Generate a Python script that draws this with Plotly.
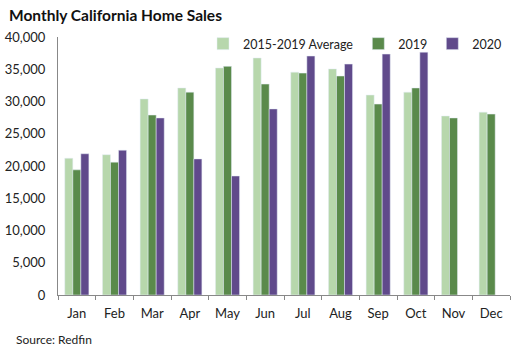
import plotly.graph_objects as go

months = ["Jan", "Feb", "Mar", "Apr", "May", "Jun", "Jul", "Aug", "Sep", "Oct", "Nov", "Dec"]
avg_2015_2019 = [21200, 21750, 30400, 32100, 35200, 36750, 34550, 35050, 31000, 31450, 27750, 28350]
sales_2019 = [19400, 20600, 27900, 31450, 35450, 32700, 34400, 33950, 29600, 32100, 27450, 28050]
sales_2020 = [21900, 22450, 27450, 21100, 18450, 28850, 37050, 35800, 37350, 37650, None, None]
y_ticks = [0, 5000, 10000, 15000, 20000, 25000, 30000, 35000, 40000]

font_family = "Lato, 'Open Sans', sans-serif"

W, H = 522, 353
ML, MR, MT, MB = 58, 12, 37, 58
pw = W - ML - MR
ph = H - MT - MB


def px_x(x):
    return (x - ML) / pw


def px_y(y):
    return (H - MB - y) / ph


fig = go.Figure()
fig.add_trace(go.Bar(x=months, y=avg_2015_2019, name="2015-2019 Average", marker_color="#b7d7ac"))
fig.add_trace(go.Bar(x=months, y=sales_2019, name="2019", marker_color="#5a8a4b"))
fig.add_trace(go.Bar(x=months, y=sales_2020, name="2020", marker_color="#604a8b"))

fig.update_layout(
    width=W, height=H,
    margin=dict(l=ML, r=MR, t=MT, b=MB, autoexpand=False),
    paper_bgcolor="white", plot_bgcolor="white",
    barmode="group", bargap=0.36, bargroupgap=0,
    font=dict(family=font_family, size=13, color="#222"),
    showlegend=True,
    legend=dict(orientation="h", x=px_x(507), xanchor="right", y=px_y(44), yanchor="middle",
                font=dict(size=12.5), itemwidth=30, tracegroupgap=0,
                bgcolor="rgba(0,0,0,0)"),
    annotations=[
        dict(text="<b>Monthly California Home Sales</b>", x=px_x(7), y=px_y(15),
             xref="paper", yref="paper", showarrow=False, xanchor="left", yanchor="middle",
             font=dict(size=15.5, color="#111")),
        dict(text="Source: Redfin", x=px_x(14), y=px_y(339), xref="paper", yref="paper",
             showarrow=False, xanchor="left", yanchor="middle", font=dict(size=12, color="#222")),
    ],
)

fig.update_xaxes(showline=True, linecolor="#888", linewidth=1, ticks="outside", tickcolor="#888",
                 ticklen=4, tickson="boundaries", showgrid=False, tickfont=dict(size=13),
                 ticklabelstandoff=6, automargin=False)
fig.update_yaxes(range=[0, 40000], tickvals=y_ticks, tickformat=",", showline=True, linecolor="#888",
                 linewidth=1, showgrid=False, zeroline=False, ticks="", ticklabelstandoff=9,
                 tickfont=dict(size=13), automargin=False)

fig.write_html("out.html")
